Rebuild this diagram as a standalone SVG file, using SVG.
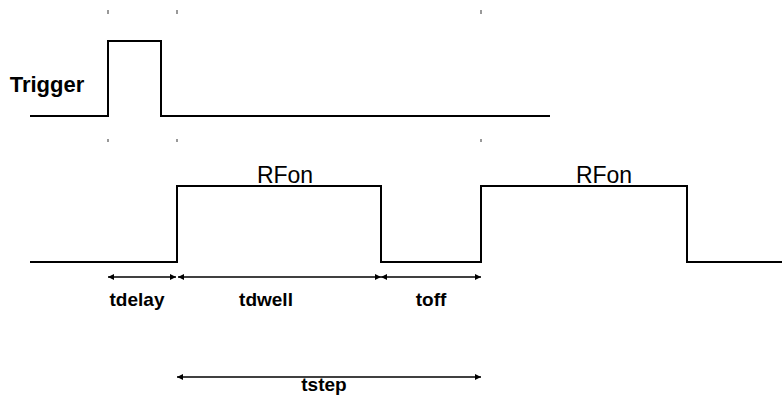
<svg xmlns="http://www.w3.org/2000/svg" width="782" height="396" viewBox="0 0 782 396">
<style>
.sig{fill:none;stroke:#000;stroke-width:2}
.dim{fill:none;stroke:#000;stroke-width:1.3}
.tick{fill:#999}
.lbl{font-family:"Liberation Sans",Arial,sans-serif;font-weight:bold;font-size:19px;fill:#000;text-anchor:middle}
.rf{font-family:"Liberation Sans",Arial,sans-serif;font-size:23px;fill:#000;text-anchor:middle}
</style>
<defs>
<marker id="ah" viewBox="0 0 8 8" refX="8" refY="4" markerWidth="6" markerHeight="6" markerUnits="userSpaceOnUse" orient="auto-start-reverse">
<path d="M0,0 L8,4 L0,8 Z" fill="#000"/>
</marker>
</defs>
<rect width="782" height="396" fill="#fff"/>
<g id="ticks">
<rect class="tick" x="107" y="10" width="2" height="4"/>
<rect class="tick" x="176" y="10" width="2" height="4"/>
<rect class="tick" x="480" y="10" width="2" height="4"/>
<rect class="tick" x="107" y="139" width="2" height="3"/>
<rect class="tick" x="176" y="139" width="2" height="3"/>
<rect class="tick" x="480" y="139" width="2" height="3"/>
</g>
<g id="trigger">
<text x="47" y="92" style="font-family:'Liberation Sans',Arial,sans-serif;font-weight:bold;font-size:22px;text-anchor:middle">Trigger</text>
<polyline class="sig" points="30,116 108,116 108,41 161,41 161,116 550,116"/>
</g>
<g id="rf">
<polyline class="sig" points="30,262 177,262 177,186 381,186 381,262 481,262 481,186 687,186 687,262 782,262"/>
<text class="rf" x="285" y="183">RFon</text>
<text class="rf" x="604" y="183">RFon</text>
</g>
<g id="connectors">
<line class="dim" x1="108" y1="277" x2="176" y2="277" marker-start="url(#ah)" marker-end="url(#ah)"/>
<line class="dim" x1="178" y1="277" x2="381" y2="277" marker-start="url(#ah)" marker-end="url(#ah)"/>
<line class="dim" x1="381" y1="277" x2="481" y2="277" marker-start="url(#ah)" marker-end="url(#ah)"/>
<line class="dim" x1="177" y1="377" x2="481" y2="377" marker-start="url(#ah)" marker-end="url(#ah)"/>
</g>
<g id="labels">
<text class="lbl" x="137" y="306">tdelay</text>
<text class="lbl" x="266" y="306">tdwell</text>
<text class="lbl" x="431" y="306">toff</text>
<text class="lbl" x="324" y="391">tstep</text>
</g>
</svg>
